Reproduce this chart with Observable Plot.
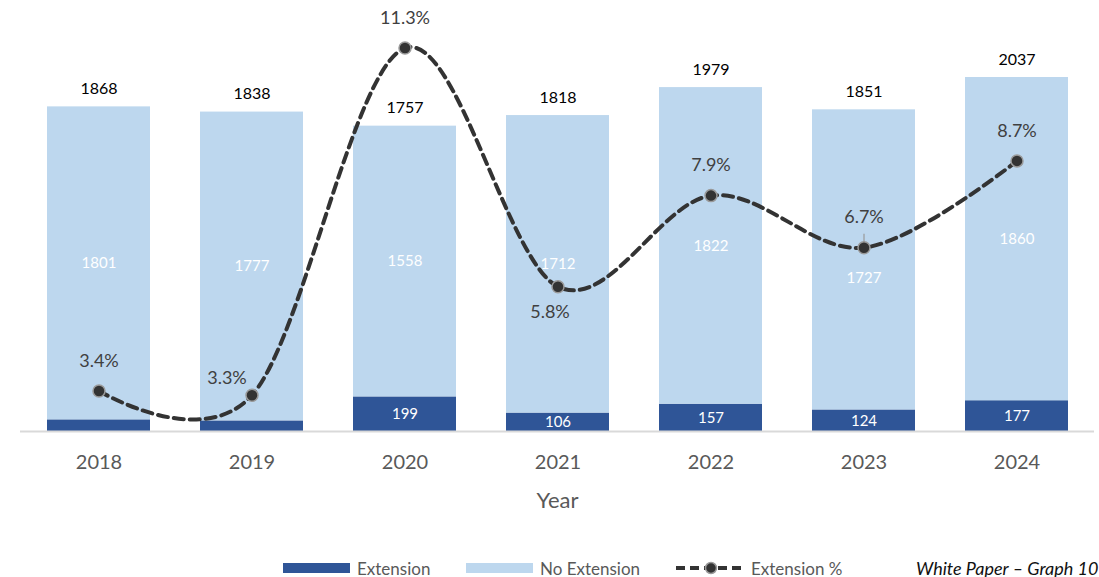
<!DOCTYPE html>
<html>
<head>
<meta charset="utf-8">
<script src="https://cdn.jsdelivr.net/npm/d3@7"></script>
<script src="https://cdn.jsdelivr.net/npm/@observablehq/plot@0.6"></script>
<style>
  html, body { margin: 0; padding: 0; background: #fff; }
  #wrap { position: relative; width: 1099px; height: 577px; font-family: Lato, "Open Sans", sans-serif; }
  #chart { position: absolute; left: 0; top: 0; }
  .leg { position: absolute; top: 558px; height: 20px; display: flex; align-items: center; font-size: 17px; color: #595959; white-space: nowrap; }
  .sw { display: inline-block; width: 67px; height: 10px; margin-right: 7px; }
  #credit { position: absolute; top: 558px; left: 916px; height: 20px; display: flex; align-items: center; font-size: 18px; font-style: italic; color: #111; white-space: nowrap; }
</style>
</head>
<body>
<div id="wrap">
  <div id="chart"></div>
  <div class="leg" style="left:283px"><span class="sw" style="background:#2F5597"></span>Extension</div>
  <div class="leg" style="left:466px"><span class="sw" style="background:#BDD7EE"></span>No Extension</div>
  <div class="leg" style="left:675px">
    <svg width="72" height="14" style="margin-right:4px"><line x1="1" y1="7" x2="71" y2="7" stroke="#333" stroke-width="4" stroke-dasharray="9,5"/><circle cx="36" cy="7" r="5.5" fill="#333" stroke="#999" stroke-width="1.5"/></svg>Extension %
  </div>
  <div id="credit">White Paper – Graph 10</div>
</div>
<script>
const years = ["2018", "2019", "2020", "2021", "2022", "2023", "2024"];
const extension = [67, 61, 199, 106, 157, 124, 177];
const noExtension = [1801, 1777, 1558, 1712, 1822, 1727, 1860];
const extensionPct = [3.4, 3.3, 11.3, 5.8, 7.9, 6.7, 8.7];
const seriesNames = ["Extension", "No Extension"];

const rows = [];
years.forEach((y, i) => {
  rows.push({year: y, series: seriesNames[0], value: extension[i], base: 0});
  rows.push({year: y, series: seriesNames[1], value: noExtension[i], base: extension[i]});
});
const totals = years.map((y, i) => ({year: y, total: extension[i] + noExtension[i]}));
const pctRows = years.map((y, i) => ({year: y, pct: extensionPct[i]}));

// secondary (percent) axis mapped onto the primary y domain
const yMax = 2365;
const pctDomain = [2.465, 11.935];
const pctToY = d3.scaleLinear().domain(pctDomain).range([0, yMax]);

const placeBelow = new Set(["2021"]);
const placeLeft = new Set(["2019"]);
const shifted = (d) => d.year === "2023" && d.series === "No Extension";
const inner = rows.filter(d => d.value >= 100);
const mid = d => d.base + d.value / 2;

const chart = Plot.plot({
  width: 1099,
  height: 520,
  marginTop: 20,
  marginBottom: 89,
  marginLeft: 20,
  marginRight: 5,
  style: {fontFamily: "Lato, 'Open Sans', sans-serif", background: "#fff"},
  x: {domain: years, paddingInner: 0.33, paddingOuter: 0.165, label: null},
  y: {domain: [0, yMax], axis: null},
  color: {domain: seriesNames, range: ["#2F5597", "#BDD7EE"]},
  marks: [
    Plot.barY(rows, Plot.stackY({x: "year", y: "value", fill: "series", order: seriesNames})),
    Plot.ruleY([0], {stroke: "#d9d9d9", strokeWidth: 2}),
    Plot.text(inner.filter(d => !shifted(d)), {x: "year", y: mid, text: d => String(d.value), fill: "white", fontSize: 15}),
    Plot.text(inner.filter(shifted), {x: "year", y: mid, text: d => String(d.value), fill: "white", fontSize: 15, dy: 18}),
    Plot.text(totals, {x: "year", y: "total", text: d => String(d.total), dy: -18, fontSize: 16, fill: "#000"}),
    Plot.axisX({tickSize: 0, tickPadding: 23, fontSize: 20, color: "#595959", label: null}),
    Plot.text(["Year"], {frameAnchor: "bottom", dy: 76, fontSize: 22, fill: "#595959"}),
    Plot.line(pctRows, {x: "year", y: d => pctToY(d.pct), curve: "cardinal", stroke: "#333", strokeWidth: 4, strokeDasharray: "10,6"}),
    Plot.link(pctRows.filter(d => d.year === "2023"), {x1: "year", x2: "year", y1: d => pctToY(d.pct) + 80, y2: d => pctToY(d.pct) + 25, stroke: "#999", strokeWidth: 1.2}),
    Plot.dot(pctRows, {x: "year", y: d => pctToY(d.pct), r: 6, fill: "#333", stroke: "#999", strokeWidth: 1.5}),
    Plot.text(pctRows.filter(d => !placeBelow.has(d.year) && !placeLeft.has(d.year)), {x: "year", y: d => pctToY(d.pct), text: d => d.pct.toFixed(1) + "%", dy: -30, fontSize: 18, fill: "#404040"}),
    Plot.text(pctRows.filter(d => placeLeft.has(d.year)), {x: "year", y: d => pctToY(d.pct), text: d => d.pct.toFixed(1) + "%", dy: -17, dx: -25, fontSize: 18, fill: "#404040"}),
    Plot.text(pctRows.filter(d => placeBelow.has(d.year)), {x: "year", y: d => pctToY(d.pct), text: d => d.pct.toFixed(1) + "%", dy: 25, dx: -8, fontSize: 18, fill: "#404040"})
  ]
});
document.getElementById("chart").appendChild(chart);
</script>
</body>
</html>
